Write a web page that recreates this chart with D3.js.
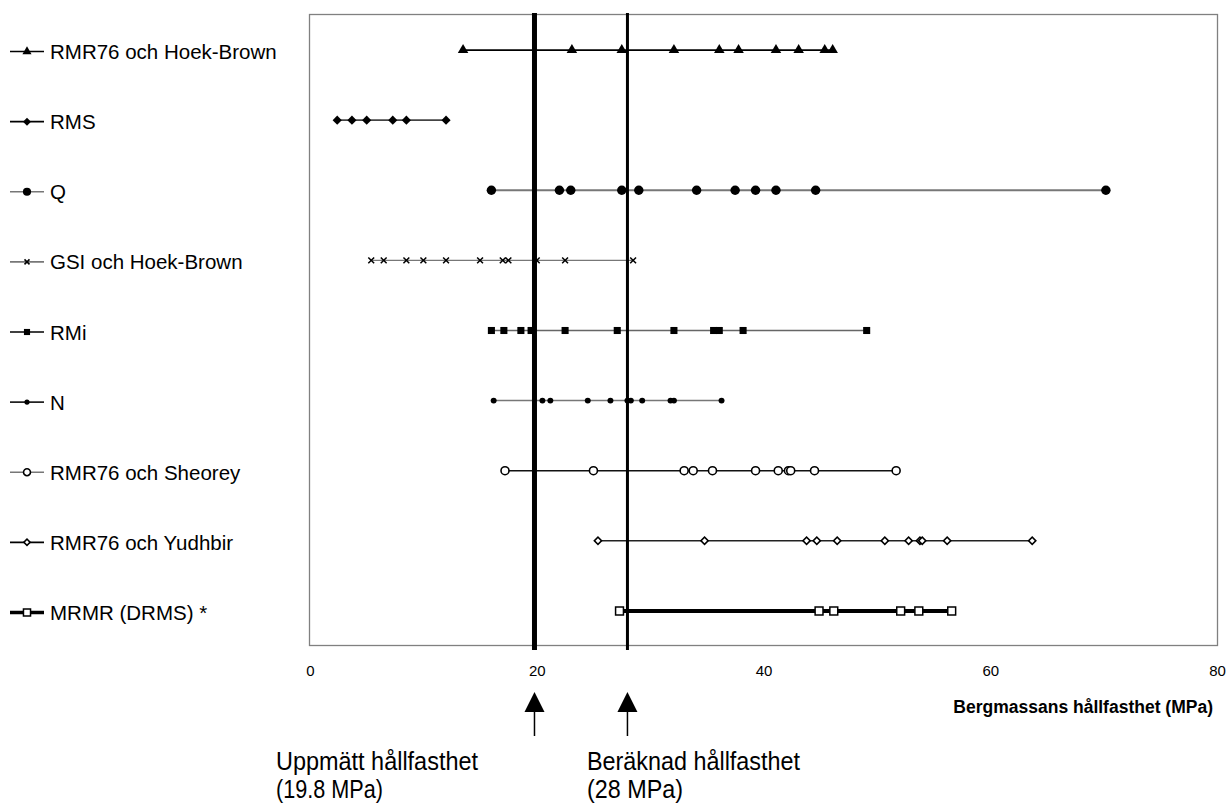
<!DOCTYPE html>
<html>
<head>
<meta charset="utf-8">
<script src="https://cdn.jsdelivr.net/npm/d3@7"></script>
<style>
  html, body { margin: 0; padding: 0; background: #fff; }
  svg { display: block; font-family: "Liberation Sans", Arial, sans-serif; }
</style>
</head>
<body>
<svg id="chart" width="1230" height="806"></svg>
<script>
// Rock mass strength estimates (MPa) per classification method
const categories = [
  "RMR76 och Hoek-Brown", "RMS", "Q", "GSI och Hoek-Brown", "RMi", "N",
  "RMR76 och Sheorey", "RMR76 och Yudhbir", "MRMR (DRMS) *"
];
const rmrHoekBrown = [13.5, 23.1, 27.5, 32.1, 36.1, 37.8, 41.1, 43.1, 45.4, 46.1];
const rms          = [2.4, 3.7, 5.0, 7.3, 8.5, 12.0];
const qValues      = [16.0, 22.0, 23.0, 27.5, 29.0, 34.1, 37.5, 39.3, 41.1, 44.6, 70.2];
const gsiHoekBrown = [5.4, 6.5, 8.5, 10.0, 12.0, 15.0, 17.0, 17.5, 20.0, 22.5, 28.5];
const rmi          = [16.0, 17.1, 18.6, 19.5, 22.5, 27.1, 32.1, 35.6, 36.1, 38.2, 49.1];
const nValues      = [16.2, 20.5, 21.2, 24.5, 26.5, 28.0, 28.3, 29.3, 31.8, 32.1, 36.3];
const rmrSheorey   = [17.2, 25.0, 33.0, 33.8, 35.5, 39.3, 41.3, 42.2, 42.4, 44.5, 51.7];
const rmrYudhbir   = [25.4, 34.8, 43.8, 44.7, 46.5, 50.7, 52.8, 53.8, 54.0, 56.2, 63.7];
const mrmr         = [27.3, 44.9, 46.2, 52.1, 53.7, 56.6];

const xTicks = [0, 20, 40, 60, 80];
const measuredStrength = 19.8;
const calculatedStrength = 28;
const measuredLabel = ["Uppmätt hållfasthet", "(19.8 MPa)"];
const calculatedLabel = ["Beräknad hållfasthet", "(28 MPa)"];
const xTitle = "Bergmassans hållfasthet (MPa)";

const seriesValues = [rmrHoekBrown, rms, qValues, gsiHoekBrown, rmi, nValues, rmrSheorey, rmrYudhbir, mrmr];

// Marker and line styling for each method
const styles = [
  { sym: d3.symbolTriangle, size: 48, fill: "#000", stroke: "none", line: "#000", lw: 1.8, legendLine: "#000" },
  { sym: d3.symbolSquare, size: 42, rotate: 45, fill: "#000", stroke: "none", line: "#444", lw: 1.6, legendLine: "#000" },
  { sym: d3.symbolCircle, size: 70, fill: "#000", stroke: "none", line: "#777", lw: 2, legendLine: "#777" },
  { sym: d3.symbolTimes, size: 24, fill: "none", stroke: "#000", sw: 1.5, line: "#777", lw: 1.3, legendLine: "#777" },
  { sym: d3.symbolSquare, size: 50, fill: "#000", stroke: "none", line: "#666", lw: 1.5, legendLine: "#000" },
  { sym: d3.symbolCircle, size: 28, fill: "#000", stroke: "none", line: "#777", lw: 1.5, legendLine: "#222" },
  { sym: d3.symbolCircle, size: 50, fill: "#fff", stroke: "#000", sw: 1.6, line: "#111", lw: 1.6, legendLine: "#777" },
  { sym: d3.symbolSquare, size: 26, rotate: 45, fill: "#fff", stroke: "#000", sw: 1.6, line: "#222", lw: 1.5, legendLine: "#000" },
  { sym: d3.symbolSquare, size: 62, fill: "#fff", stroke: "#000", sw: 1.5, line: "#000", lw: 4, legendLine: "#000" }
];

const svg = d3.select("#chart");
const plot = { left: 310, right: 1217, top: 15, bottom: 646 };

const x = d3.scaleLinear().domain([0, 80]).range([plot.left, plot.right]);
const y = d3.scaleBand().domain(categories).range([plot.top, plot.bottom]).padding(0);
const yc = name => y(name) + y.bandwidth() / 2;

// Plot frame
svg.append("rect")
  .attr("x", plot.left - 0.5).attr("y", plot.top - 0.5)
  .attr("width", plot.right - plot.left + 1).attr("height", plot.bottom - plot.top)
  .attr("fill", "none").attr("stroke", "#808080").attr("stroke-width", 1.3);

// X axis tick labels (no tick lines)
const xAxis = d3.axisBottom(x).tickValues(xTicks).tickSize(0).tickPadding(19);
const gx = svg.append("g").attr("transform", `translate(0,${plot.bottom})`).call(xAxis);
gx.select(".domain").remove();
gx.attr("font-size", 15).attr("font-family", "Liberation Sans, Arial, sans-serif");
gx.selectAll("text").attr("fill", "#000");

// Axis title
svg.append("text")
  .attr("x", 1213).attr("y", 713)
  .attr("text-anchor", "end").attr("font-size", 17.5).attr("font-weight", "bold")
  .text(xTitle);

// Series lines and markers
const symbolGen = d3.symbol();
categories.forEach((name, i) => {
  const vals = seriesValues[i];
  const st = styles[i];
  const cy = yc(name);
  const g = svg.append("g");
  g.append("line")
    .attr("x1", x(d3.min(vals))).attr("x2", x(d3.max(vals)))
    .attr("y1", cy).attr("y2", cy)
    .attr("stroke", st.line).attr("stroke-width", st.lw);
  g.selectAll("path.marker").data(vals).join("path")
    .attr("class", "marker")
    .attr("d", symbolGen.type(st.sym).size(st.size)())
    .attr("transform", d => `translate(${x(d)},${cy})` + (st.rotate ? ` rotate(${st.rotate})` : ""))
    .attr("fill", st.fill).attr("stroke", st.stroke).attr("stroke-width", st.sw || 0);
});

// Reference lines: measured and calculated strength
svg.append("line")
  .attr("x1", x(measuredStrength)).attr("x2", x(measuredStrength))
  .attr("y1", 13).attr("y2", 650)
  .attr("stroke", "#000").attr("stroke-width", 5);
svg.append("line")
  .attr("x1", x(calculatedStrength)).attr("x2", x(calculatedStrength))
  .attr("y1", 13).attr("y2", 650)
  .attr("stroke", "#000").attr("stroke-width", 3);

// Legend at the left, aligned with rows
const legend = svg.append("g");
categories.forEach((name, i) => {
  const st = styles[i];
  const cy = yc(name) + 1.5;
  legend.append("line")
    .attr("x1", 10).attr("x2", 44).attr("y1", cy).attr("y2", cy)
    .attr("stroke", st.legendLine).attr("stroke-width", i === 8 ? 3.5 : 1.6);
  const legendSize = i === 8 ? 50 : st.size * 0.75;
  legend.append("path")
    .attr("d", symbolGen.type(st.sym).size(legendSize)())
    .attr("transform", `translate(27,${cy})` + (st.rotate ? ` rotate(${st.rotate})` : ""))
    .attr("fill", st.fill).attr("stroke", st.stroke).attr("stroke-width", st.sw || 0);
  legend.append("text")
    .attr("x", 50).attr("y", cy + 7.5)
    .attr("font-size", 20.5).attr("fill", "#000")
    .text(name);
});

// Arrows with annotations below the axis
function arrow(value, lines, textX, widths) {
  const ax = x(value);
  svg.append("path")
    .attr("d", `M${ax},692 L${ax - 10},712 L${ax + 10},712 Z`)
    .attr("fill", "#000");
  svg.append("line")
    .attr("x1", ax).attr("x2", ax).attr("y1", 710).attr("y2", 736)
    .attr("stroke", "#000").attr("stroke-width", 1.5);
  lines.forEach((ln, k) => {
    svg.append("text")
      .attr("x", textX).attr("y", 770 + k * 28)
      .attr("font-size", 25).attr("fill", "#000")
      .attr("textLength", widths[k]).attr("lengthAdjust", "spacingAndGlyphs")
      .text(ln);
  });
}
arrow(measuredStrength, measuredLabel, 276, [202, 107]);
arrow(calculatedStrength, calculatedLabel, 587, [213, 96]);
</script>
</body>
</html>
